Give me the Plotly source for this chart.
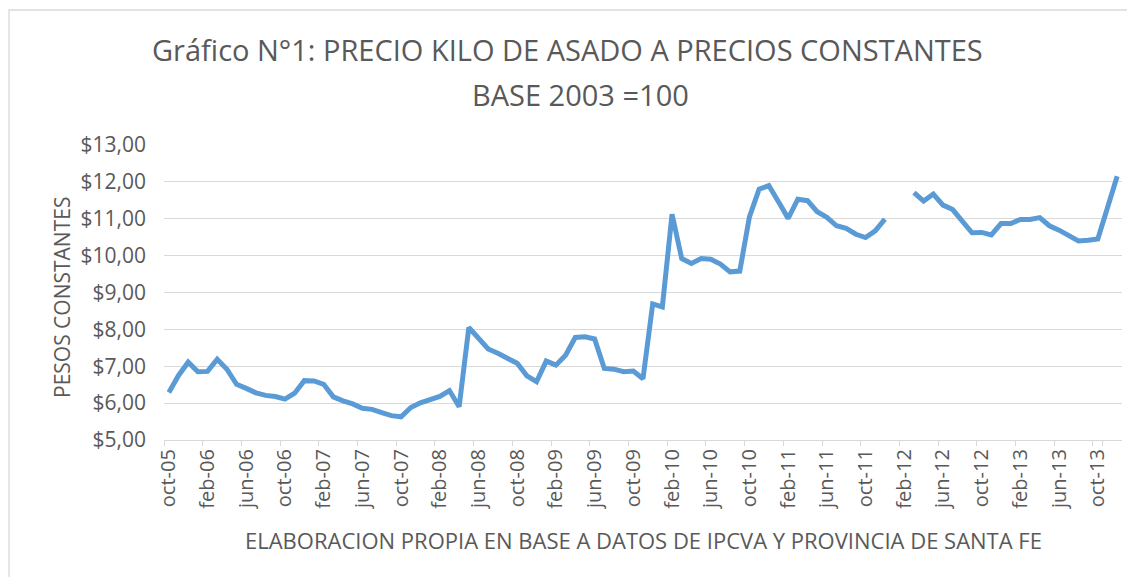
import pandas as pd
import plotly.graph_objects as go

# Monthly categories oct-05 .. dic-13
MES = ["ene", "feb", "mar", "abr", "may", "jun", "jul", "ago", "sep", "oct", "nov", "dic"]
dates = pd.date_range("2005-10-01", "2013-12-01", freq="MS")
categories = [f"{MES[d.month - 1]}-{d.strftime('%y')}" for d in dates]

# Price per kg of asado, constant pesos (base 2003 = 100); None = missing month
precio_2005_2007 = [
    6.29, 6.75, 7.11, 6.85, 6.86, 7.19, 6.92, 6.51, 6.40, 6.28,
    6.21, 6.18, 6.11, 6.27, 6.61, 6.60, 6.51, 6.17, 6.06, 5.98,
    5.86, 5.83, 5.74, 5.66, 5.63, 5.88, 6.01, 6.10, 6.18, 6.34,
]
precio_2008_2010 = [
    5.90, 8.05, 7.74, 7.47, 7.35, 7.21, 7.08, 6.74, 6.58, 7.14,
    7.03, 7.30, 7.78, 7.80, 7.74, 6.94, 6.92, 6.85, 6.87, 6.66,
    8.69, 8.61, 11.12, 9.92, 9.79, 9.92, 9.90, 9.77, 9.56, 9.58,
]
precio_2010_2013 = [
    11.05, 11.80, 11.90, 11.46, 11.01, 11.53, 11.49, 11.19, 11.04, 10.81,
    10.74, 10.58, 10.49, 10.67, 10.99, None, None, 11.71, 11.48, 11.67,
    11.37, 11.25, 10.92, 10.62, 10.63, 10.56, 10.87, 10.87, 10.98, 10.98,
    11.03, 10.81, 10.69, 10.56, 10.40, 10.42, 10.45, 11.30, 12.15,
]
precio = precio_2005_2007 + precio_2008_2010 + precio_2010_2013

tick_labels = categories[::4]
y_ticks = [5, 6, 7, 8, 9, 10, 11, 12, 13]
y_tick_text = [f"${v},00" for v in y_ticks]

TITLE_1 = "Gráfico N°1: PRECIO KILO DE ASADO A PRECIOS CONSTANTES"
TITLE_2 = "BASE 2003 =100"
X_TITLE = "ELABORACION PROPIA EN BASE A DATOS DE IPCVA Y PROVINCIA DE SANTA FE"
Y_TITLE = "PESOS CONSTANTES"

FONT = "Open Sans"
GREY = "#595959"
GRID = "#D9D9D9"

OFF = 8  # default page body margin
W, H = 1135 - OFF, 577 - OFF
ML, MR, MT, MB = 164 - OFF, 13, 145 - OFF, 137
PW, PH = W - ML - MR, H - MT - MB


def py_paper(page_y):
    return (H - MB - (page_y - OFF)) / PH


def px_paper(page_x):
    return (page_x - OFF - ML) / PW


fig = go.Figure()
fig.add_trace(go.Scatter(
    x=categories, y=precio, mode="lines",
    line=dict(color="#5B9BD5", width=5),
    connectgaps=False, showlegend=False,
))

fig.update_layout(
    width=W, height=H,
    margin=dict(l=ML, r=MR, t=MT, b=MB, autoexpand=False),
    paper_bgcolor="white", plot_bgcolor="white",
    font=dict(family=FONT, color=GREY),
    annotations=[
        dict(text=TITLE_1, xref="paper", yref="paper", x=px_paper(567),
             y=py_paper(50), xanchor="center", yanchor="middle", showarrow=False,
             font=dict(family=FONT, size=29, color=GREY)),
        dict(text=TITLE_2, xref="paper", yref="paper", x=px_paper(580),
             y=py_paper(94), xanchor="center", yanchor="middle", showarrow=False,
             font=dict(family=FONT, size=29, color=GREY)),
        dict(text=X_TITLE, xref="paper", yref="paper", x=px_paper(643),
             y=py_paper(540), xanchor="center", yanchor="middle", showarrow=False,
             font=dict(family=FONT, size=22, color=GREY)),
        dict(text=Y_TITLE, xref="paper", yref="paper", x=px_paper(62),
             y=py_paper(298), xanchor="center", yanchor="middle", showarrow=False,
             textangle=-90, font=dict(family=FONT, size=21, color=GREY)),
    ],
    xaxis=dict(
        type="category", categoryorder="array", categoryarray=categories,
        range=[-0.5, len(categories) - 0.5], automargin=False,
        tickmode="array", tickvals=tick_labels, ticktext=tick_labels,
        tickangle=-90, tickson="boundaries",
        ticks="outside", ticklen=5, tickcolor=GRID, tickwidth=1.3,
        showgrid=False, showline=True, linecolor=GRID, linewidth=1.3,
        tickfont=dict(family=FONT, size=20, color=GREY),
    ),
    yaxis=dict(
        range=[5, 13], tickmode="array", tickvals=y_ticks, ticktext=y_tick_text,
        automargin=False,
        showgrid=True, gridcolor=GRID, gridwidth=1.3, zeroline=False, showline=False,
        ticks="", ticklabelstandoff=17,
        tickfont=dict(family=FONT, size=21, color=GREY),
    ),
    shapes=[
        dict(type="rect", xref="paper", yref="paper",
             x0=px_paper(9), x1=px_paper(1160), y0=py_paper(600), y1=py_paper(10),
             line=dict(color=GRID, width=1.3), fillcolor="rgba(0,0,0,0)", layer="below"),
    ],
)

fig.write_html("out.html")
